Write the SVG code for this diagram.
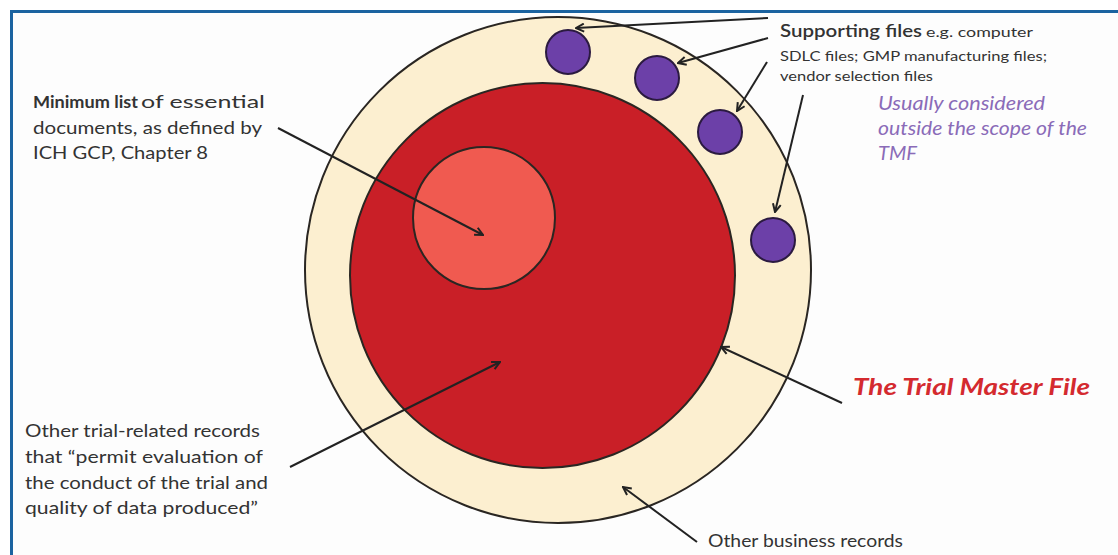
<svg xmlns="http://www.w3.org/2000/svg" width="1118" height="555" viewBox="0 0 1118 555">
<defs>
<style>
.t{font-family:Lato,"Open Sans","Liberation Sans",sans-serif;fill:#333;font-size:17px}
.b{font-weight:bold}
.pur{fill:#8a6bb8;font-style:italic;font-size:19px}
.tmf{fill:#d42a2f;font-style:italic;font-weight:bold;font-size:23px}
.ln{stroke:#222;stroke-width:2;fill:none}
.arr{marker-end:url(#ah)}
.ring{stroke:#2a2622;stroke-width:2}
.dot{fill:#6c40a8;stroke:#2b1a40;stroke-width:2}
</style>
<marker id="ah" viewBox="0 0 10 10" refX="9" refY="5" markerWidth="5" markerHeight="5" orient="auto" markerUnits="strokeWidth">
<path d="M1,1 L9,5 L1,9" fill="none" stroke="#222" stroke-width="2"/>
</marker>
</defs>
<rect x="0" y="0" width="1118" height="555" fill="#ffffff"/>
<rect x="11.5" y="11.5" width="1120" height="560" fill="#fdfdfd" stroke="#1b63a0" stroke-width="3"/>

<g id="outer-ring"><circle class="ring" cx="558" cy="270" r="253" fill="#fcefd0"/></g>
<g id="trial-master-file"><circle class="ring" cx="542.5" cy="275.5" r="192.5" fill="#c91f27"/></g>
<g id="minimum-list"><circle class="ring" cx="484" cy="218" r="71" fill="#f05a50"/></g>
<g id="supporting-1"><circle class="dot" cx="568" cy="52" r="22"/></g>
<g id="supporting-2"><circle class="dot" cx="657" cy="78" r="22"/></g>
<g id="supporting-3"><circle class="dot" cx="720" cy="132" r="22"/></g>
<g id="supporting-4"><circle class="dot" cx="773" cy="240" r="22"/></g>

<g id="connectors">
<line class="ln arr" x1="768" y1="18" x2="576" y2="28"/>
<line class="ln arr" x1="768" y1="38" x2="678" y2="63"/>
<line class="ln arr" x1="767" y1="62" x2="737" y2="111"/>
<line class="ln arr" x1="803" y1="95" x2="775" y2="212"/>
<line class="ln arr" x1="278" y1="128" x2="483" y2="235"/>
<line class="ln arr" x1="290" y1="467" x2="500" y2="362"/>
<line class="ln arr" x1="842" y1="403" x2="721" y2="347"/>
<line class="ln arr" x1="697" y1="542" x2="623" y2="487"/>
</g>

<g id="label-supporting">
<text class="t b" x="780" y="37" textLength="142" lengthAdjust="spacingAndGlyphs" style="font-weight:600">Supporting files</text>
<text class="t" x="926" y="37" font-size="13" textLength="107" lengthAdjust="spacingAndGlyphs" style="font-size:13px">e.g. computer</text>
<text class="t" x="780" y="61" textLength="267" lengthAdjust="spacingAndGlyphs" style="font-size:14px">SDLC files; GMP manufacturing files;</text>
<text class="t" x="780" y="81" textLength="153" lengthAdjust="spacingAndGlyphs" style="font-size:14px">vendor selection files</text>
</g>
<g id="label-outside">
<text class="t pur" x="878" y="110" textLength="167" lengthAdjust="spacingAndGlyphs">Usually considered</text>
<text class="t pur" x="878" y="135" textLength="209" lengthAdjust="spacingAndGlyphs">outside the scope of the</text>
<text class="t pur" x="878" y="160" textLength="39" lengthAdjust="spacingAndGlyphs">TMF</text>
</g>
<g id="label-minimum">
<text class="t b" x="33" y="108" textLength="105" lengthAdjust="spacingAndGlyphs">Minimum list</text>
<text class="t" x="141" y="108" textLength="124" lengthAdjust="spacingAndGlyphs">of essential</text>
<text class="t" x="33" y="134" textLength="229" lengthAdjust="spacingAndGlyphs">documents, as defined by</text>
<text class="t" x="33" y="159" textLength="175" lengthAdjust="spacingAndGlyphs">ICH GCP, Chapter 8</text>
</g>
<g id="label-other-trial">
<text class="t" x="25" y="437" textLength="235" lengthAdjust="spacingAndGlyphs">Other trial-related records</text>
<text class="t" x="25" y="463" textLength="238" lengthAdjust="spacingAndGlyphs">that “permit  evaluation of</text>
<text class="t" x="25" y="489" textLength="243" lengthAdjust="spacingAndGlyphs">the conduct of the trial and</text>
<text class="t" x="25" y="514" textLength="233" lengthAdjust="spacingAndGlyphs">quality of data produced”</text>
</g>
<g id="label-tmf">
<text class="t tmf" x="853" y="395" textLength="237" lengthAdjust="spacingAndGlyphs">The Trial Master File</text>
</g>
<g id="label-business">
<text class="t" x="708" y="547" textLength="195" lengthAdjust="spacingAndGlyphs">Other business records</text>
</g>
</svg>
